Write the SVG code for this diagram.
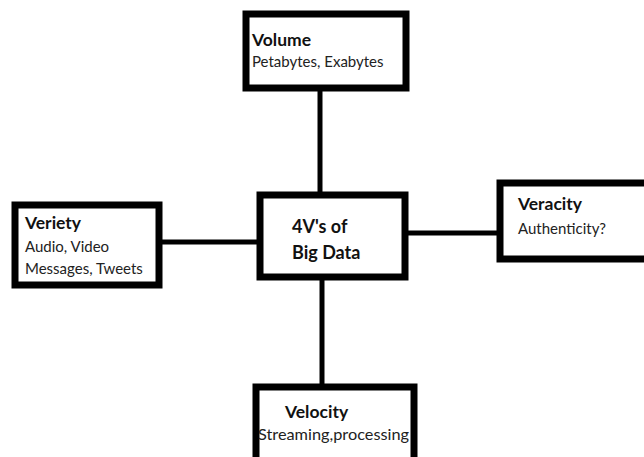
<svg xmlns="http://www.w3.org/2000/svg" width="644" height="457" viewBox="0 0 644 457">
<style>
.box{fill:#fff;stroke:#000;stroke-width:7}
.conn{stroke:#000;stroke-width:5;fill:none}
.t{font-family:Lato,"Liberation Sans",sans-serif;font-weight:bold;font-size:17.5px;fill:#111}
.s{font-family:Lato,"Liberation Sans",sans-serif;font-size:15px;fill:#222}
.c{font-family:Lato,"Liberation Sans",sans-serif;font-weight:bold;font-size:18px;fill:#111}
</style>
<rect width="644" height="457" fill="#fff"/>
<g id="connectors">
<line class="conn" x1="320" y1="90" x2="320" y2="195"/>
<line class="conn" x1="322" y1="277" x2="322" y2="386"/>
<line class="conn" x1="159" y1="242" x2="260" y2="242"/>
<line class="conn" x1="405" y1="233" x2="500" y2="233"/>
</g>
<g id="volume">
<rect class="box" x="246" y="14" width="160" height="74"/>
<text class="t" x="252" y="46">Volume</text>
<text class="s" x="252" y="67">Petabytes, Exabytes</text>
</g>
<g id="center">
<rect class="box" x="260" y="195" width="145" height="82"/>
<text class="c" x="292" y="233">4V's of</text>
<text class="c" x="292" y="259">Big Data</text>
</g>
<g id="veriety">
<rect class="box" x="15" y="205" width="144" height="80"/>
<text class="t" x="25" y="229">Veriety</text>
<text class="s" x="25" y="252">Audio, Video</text>
<text class="s" x="25" y="274">Messages, Tweets</text>
</g>
<g id="veracity">
<rect class="box" x="500" y="183" width="160" height="76"/>
<text class="t" x="518" y="210">Veracity</text>
<text class="s" x="518" y="234">Authenticity?</text>
</g>
<g id="velocity">
<rect class="box" x="256" y="387" width="158" height="80"/>
<text class="t" x="285" y="418">Velocity</text>
<text class="s" x="258" y="440" textLength="151" lengthAdjust="spacingAndGlyphs">Streaming,processing</text>
</g>
</svg>
